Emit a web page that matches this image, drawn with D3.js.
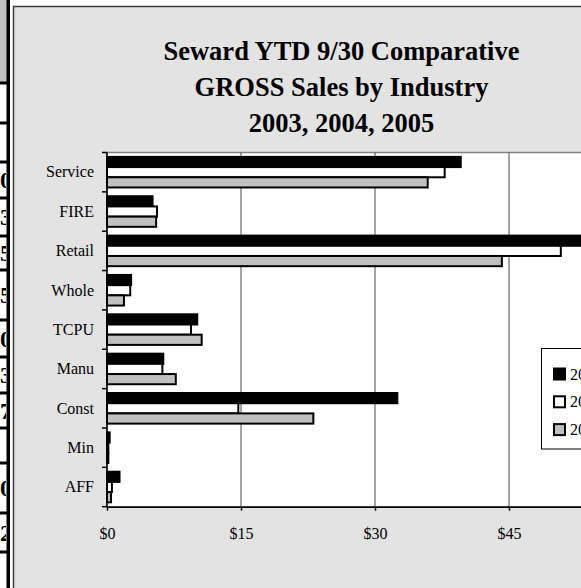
<!DOCTYPE html>
<html>
<head>
<meta charset="utf-8">
<script src="https://cdn.jsdelivr.net/npm/d3@7"></script>
<style>
  html, body { margin: 0; padding: 0; background: #ffffff; overflow: hidden; }
  svg { display: block; }
  text { font-family: "Liberation Serif", "Times New Roman", serif; }
</style>
</head>
<body>
<div id="chart"></div>
<script>
// ---- data ----
const categories = ["Service", "FIRE", "Retail", "Whole", "TCPU", "Manu", "Const", "Min", "AFF"];
const seriesNames = ["2003", "2004", "2005"];
const values2003 = [39.6, 5.1, 57.0, 2.7, 10.1, 6.3, 32.5, 0.3, 1.4];
const values2004 = [37.8, 5.6, 50.8, 2.6, 9.4, 6.2, 14.7, 0.15, 0.55];
const values2005 = [35.9, 5.5, 44.2, 1.9, 10.6, 7.7, 23.1, 0.15, 0.45];
const xTicks = [0, 15, 30, 45];
const titleLines = ["Seward YTD 9/30 Comparative", "GROSS Sales by Industry", "2003, 2004, 2005"];
const seriesFill = ["#000000", "#ffffff", "#c0c0c0"];

// left (cut-off) spreadsheet strip
const stripRowLines = [83, 123, 162, 198, 236, 270, 320, 357, 393, 428, 463, 513, 552];
const stripGlyphs = [
  {row: 3, t: "0"}, {row: 4, t: "3"}, {row: 5, t: "5"}, {row: 6, t: "5"},
  {row: 7, t: "0"}, {row: 8, t: "3"}, {row: 9, t: "7"}, {row: 11, t: "0"}, {row: 12, t: "2"}
];

const W = 581, H = 588;
const svg = d3.select("#chart").append("svg").attr("width", W).attr("height", H);

// ---- left strip ----
svg.append("rect").attr("x", 0).attr("y", 0).attr("width", 7).attr("height", 83).attr("fill", "#c0c0c0");
stripRowLines.forEach(y => {
  svg.append("rect").attr("x", 0).attr("y", y - 1.5).attr("width", 9).attr("height", 3).attr("fill", "#000");
});
const rowBounds = [0].concat(stripRowLines).concat([H]);
const clip = svg.append("defs").append("clipPath").attr("id", "stripclip");
clip.append("rect").attr("x", 0).attr("y", 0).attr("width", 6).attr("height", H);
const glyphG = svg.append("g").attr("clip-path", "url(#stripclip)");
stripGlyphs.forEach(g => {
  const y0 = rowBounds[g.row], y1 = rowBounds[g.row + 1];
  glyphG.append("text").attr("x", 6).attr("y", (y0 + y1) / 2 + 8)
    .attr("text-anchor", "middle").attr("font-size", 24).attr("font-weight", "bold").attr("fill", "#000").text(g.t);
});
svg.append("rect").attr("x", 6.5).attr("y", 0).attr("width", 3.5).attr("height", H).attr("fill", "#000");

// ---- chart area ----
svg.append("rect").attr("x", 13.5).attr("y", 6.5).attr("width", 620).attr("height", 620)
  .attr("fill", "#e3e3e3").attr("stroke", "#3a3a3a").attr("stroke-width", 1.5);

// title
const title = svg.append("text").attr("text-anchor", "middle").attr("font-size", 26.5).attr("font-weight", "bold").attr("fill", "#000");
titleLines.forEach((t, i) => {
  title.append("tspan").attr("x", 341.5).attr("y", 60 + i * 36).text(t);
});

// ---- scales ----
const plotTop = 152.5, plotBottom = 506.7;
const x = d3.scaleLinear().domain([0, 60]).range([107, 643]);
const y0 = d3.scaleBand().domain(categories).range([plotTop, plotBottom]).paddingInner(0).paddingOuter(0);
const y1 = d3.scaleBand().domain(seriesNames).range([0, y0.bandwidth()]).paddingInner(0).paddingOuter(0.43);

// plot area
svg.append("rect").attr("x", x(0)).attr("y", plotTop).attr("width", x(60) - x(0)).attr("height", plotBottom - plotTop)
  .attr("fill", "#ffffff").attr("stroke", "#808080").attr("stroke-width", 1.5);

// gridlines
svg.append("g").selectAll("line").data(xTicks.filter(d => d > 0)).join("line")
  .attr("x1", d => x(d)).attr("x2", d => x(d)).attr("y1", plotTop).attr("y2", plotBottom)
  .attr("stroke", "#4a4a4a").attr("stroke-width", 1);

// bars
const allValues = [values2003, values2004, values2005];
const barG = svg.append("g");
categories.forEach((c, ci) => {
  seriesNames.forEach((s, si) => {
    const v = allValues[si][ci];
    barG.append("rect")
      .attr("x", x(0))
      .attr("y", y0(c) + y1(s))
      .attr("width", x(v) - x(0))
      .attr("height", y1.bandwidth())
      .attr("fill", seriesFill[si])
      .attr("stroke", "#000").attr("stroke-width", 2);
  });
});

// x axis
const xAxis = d3.axisBottom(x).tickValues(xTicks).tickSize(4).tickSizeOuter(0).tickFormat(d => "$" + d);
const gx = svg.append("g").attr("transform", `translate(0,${plotBottom})`).call(xAxis);
gx.select(".domain").attr("stroke", "#000").attr("stroke-width", 1.5);
gx.selectAll(".tick line").attr("stroke", "#000").attr("stroke-width", 1.5);
gx.selectAll(".tick text").attr("font-size", 16).attr("font-family", "Liberation Serif, Times New Roman, serif")
  .attr("fill", "#000").attr("y", 0).attr("dy", "2.0em");

// y axis (ticks at category boundaries)
const gy = svg.append("g").attr("transform", `translate(${x(0)},0)`);
gy.append("line").attr("x1", 0).attr("x2", 0).attr("y1", plotTop).attr("y2", plotBottom).attr("stroke", "#000").attr("stroke-width", 1.5);
const bounds = categories.map(c => y0(c)).concat([plotBottom]);
gy.selectAll("line.tk").data(bounds).join("line").attr("class", "tk")
  .attr("x1", -5).attr("x2", 0).attr("y1", d => d).attr("y2", d => d).attr("stroke", "#000").attr("stroke-width", 1.5);
gy.selectAll("text").data(categories).join("text")
  .attr("x", -13).attr("y", d => y0(d) + y0.bandwidth() / 2).attr("dy", "0.33em")
  .attr("text-anchor", "end").attr("font-size", 16).attr("fill", "#000").text(d => d);

// legend
const lg = svg.append("g");
lg.append("rect").attr("x", 541.5).attr("y", 348.5).attr("width", 80).attr("height", 100.5)
  .attr("fill", "#ffffff").attr("stroke", "#000").attr("stroke-width", 1);
seriesNames.forEach((s, i) => {
  const cy = 374 + i * 27.8;
  lg.append("rect").attr("x", 554).attr("y", cy - 5.5).attr("width", 11).attr("height", 11)
    .attr("fill", seriesFill[i]).attr("stroke", "#000").attr("stroke-width", 2);
  lg.append("text").attr("x", 570).attr("y", cy).attr("dy", "0.35em").attr("font-size", 16).attr("fill", "#000").text(s);
});
</script>
</body>
</html>
